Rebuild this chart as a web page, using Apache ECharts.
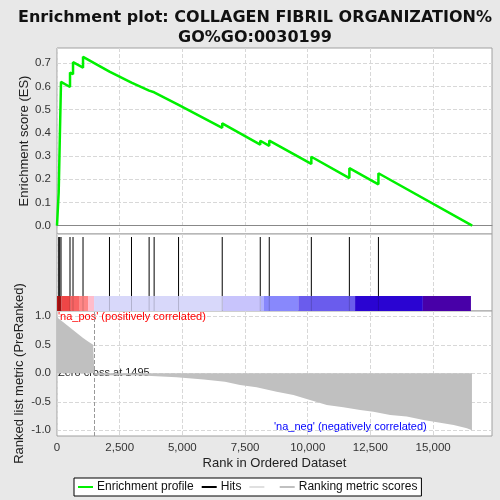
<!DOCTYPE html>
<html>
<head>
<meta charset="utf-8">
<script src="https://cdn.jsdelivr.net/npm/echarts@6/dist/echarts.min.js"></script>
<style>
  html, body { margin: 0; padding: 0; background: #e8e8e8; }
  #chart { width: 500px; height: 500px; }
</style>
</head>
<body>
<div id="chart"></div>
<script>
// running enrichment score, read at each hit (before / after the step)
const esRanks = [0, 68, 68, 108, 108, 160, 160, 519, 519, 639, 639, 1038, 1038, 2093, 2093, 2971, 2971,
  3674, 3674, 3874, 3874, 4848, 4848, 6590, 6590, 8107, 8107, 8466, 8466, 10144, 10144, 11661, 11661,
  12820, 12820, 16560];
const esValues = [0, 0, 0.145, 0.143, 0.355, 0.352, 0.62, 0.598, 0.66, 0.653, 0.705, 0.681, 0.728, 0.664, 0.670,
  0.617, 0.624, 0.582, 0.587, 0.575, 0.580, 0.521, 0.527, 0.422, 0.441, 0.349, 0.366, 0.344, 0.367,
  0.266, 0.297, 0.205, 0.248, 0.178, 0.226, 0];

// positions of the gene set members in the ranked list
const hitRanks = [68, 108, 160, 519, 639, 1038, 2093, 2971, 3674, 3874, 4848, 6590, 8107, 8466, 10144, 11661, 12820];

// colour band under the hits
const bandStart = [0, 176, 547, 907, 1238, 1478, 6605, 8123, 8255, 9625, 11889, 14593];
const bandEnd = [176, 547, 907, 1238, 1478, 6605, 8123, 8255, 9625, 11889, 14593, 16510];
const bandColors = ['#b81414', '#ee4646', '#f86464', '#ff8686', '#ffbccb', '#d8d8fa', '#c8c4fc', '#b0b0ff',
  '#8888fc', '#6a5ced', '#2a04d2', '#4800a8'];

// ranked list metric
const metricRanks = [0, 60, 240, 440, 640, 840, 1040, 1240, 1440, 1495, 1495, 3370, 3370, 4770, 4770, 5850, 5850,
  6700, 6700, 7300, 7960, 8760, 9430, 10090, 10760, 11420, 12090, 12620, 13290, 13950, 14620, 15280,
  15820, 16350, 16550, 16550];
const metricValues = [1.0, 0.96, 0.9, 0.83, 0.76, 0.69, 0.62, 0.56, 0.5, 0.48, -0.035, -0.04, -0.06, -0.07, -0.1,
  -0.11, -0.14, -0.15, -0.18, -0.205, -0.246, -0.322, -0.38, -0.468, -0.556, -0.597, -0.644, -0.673,
  -0.73, -0.76, -0.82, -0.866, -0.907, -0.965, -1.0, 0];

const zeroCross = 1495;
const xTicks = [0, 2500, 5000, 7500, 10000, 12500, 15000];
const esTicks = [0, 0.1, 0.2, 0.3, 0.4, 0.5, 0.6, 0.7];
const metricTicks = [-1, -0.5, 0, 0.5, 1];
const xMax = 17350;

const font = 'Liberation Sans';
const chart = echarts.init(document.getElementById('chart'));

const gridBase = {
  left: 57, right: 8, show: true, backgroundColor: '#fff', borderColor: '#a0a0a0', borderWidth: 1,
  containLabel: false, outerBoundsMode: 'none'
};
const dashed = { show: true, lineStyle: { color: '#d8d8d8', type: 'dashed', width: 1 } };
const nameStyle = { color: '#222', fontFamily: font, fontSize: 13 };
const labelStyle = { color: '#333', fontFamily: font, fontSize: 11.5 };

function xAxisFor(i, withLabels) {
  return {
    type: 'value', gridIndex: i, min: 0, max: xMax,
    axisLine: i === 0 ? { show: true, onZero: true, lineStyle: { color: '#888', width: 1 } } : { show: false },
    axisTick: { show: false, customValues: xTicks },
    axisLabel: Object.assign({
      show: withLabels, customValues: xTicks, margin: 6,
      formatter: v => v.toLocaleString('en-US')
    }, labelStyle),
    splitLine: dashed,
    name: withLabels ? 'Rank in Ordered Dataset' : '',
    nameLocation: 'middle', nameGap: 21, nameMoveOverlap: false,
    nameTextStyle: nameStyle
  };
}

const option = {
  backgroundColor: '#e8e8e8',
  animation: false,
  title: {
    text: 'Enrichment plot: COLLAGEN FIBRIL ORGANIZATION%\nGO%GO:0030199',
    left: 250, top: 3, textAlign: 'center',
    textStyle: { fontFamily: 'DejaVu Sans', fontSize: 16, fontWeight: 'bold', color: '#111', lineHeight: 20 }
  },
  grid: [
    Object.assign({ top: 48, height: 186 }, gridBase),
    Object.assign({ top: 234, height: 77 }, gridBase),
    Object.assign({ top: 311, height: 125 }, gridBase)
  ],
  xAxis: [xAxisFor(0, false), xAxisFor(1, false), xAxisFor(2, true)],
  yAxis: [
    {
      type: 'value', gridIndex: 0, min: -0.036, max: 0.766,
      axisLine: { show: false },
      axisTick: { show: false, customValues: esTicks },
      axisLabel: Object.assign({ customValues: esTicks, margin: 6, formatter: v => v.toFixed(1) }, labelStyle),
      splitLine: dashed,
      name: 'Enrichment score (ES)', nameLocation: 'middle', nameGap: 26, nameMoveOverlap: false,
      nameTextStyle: nameStyle
    },
    {
      type: 'value', gridIndex: 1, min: 0, max: 1,
      axisLine: { show: false }, axisTick: { show: false }, axisLabel: { show: false }, splitLine: { show: false }
    },
    {
      type: 'value', gridIndex: 2, min: -1.1, max: 1.093,
      axisLine: { show: false },
      axisTick: { show: false, customValues: metricTicks },
      axisLabel: Object.assign({ customValues: metricTicks, margin: 6, formatter: v => v.toFixed(1) }, labelStyle),
      splitLine: dashed,
      name: 'Ranked list metric (PreRanked)', nameLocation: 'middle', nameGap: 31, nameMoveOverlap: false,
      nameTextStyle: nameStyle
    }
  ],
  legend: {
    left: 74, top: 478, width: 360,
    padding: [3, 4], itemGap: 8, itemWidth: 15, itemHeight: 2,
    borderColor: '#000', borderWidth: 1, backgroundColor: '#fff',
    icon: 'rect',
    textStyle: { fontFamily: font, fontSize: 12, color: '#111', padding: [0, 0, 0, -1] },
    data: ['Enrichment profile', 'Hits', ' ', 'Ranking metric scores']
  },
  series: [
    {
      name: 'Enrichment profile', type: 'line', xAxisIndex: 0, yAxisIndex: 0,
      data: esRanks.map((r, i) => [r, esValues[i]]),
      showSymbol: false, symbol: 'none', color: '#00f000',
      lineStyle: { color: '#00f000', width: 2.5 }, z: 5
    },
    {
      name: 'Hits', type: 'custom', xAxisIndex: 1, yAxisIndex: 1, color: '#000',
      data: hitRanks.map(r => [r]),
      renderItem: function (params, api) {
        const top = api.coord([api.value(0), 0.961]);
        const mid = api.coord([api.value(0), 0.195]);
        const bot = api.coord([api.value(0), 0]);
        return {
          type: 'group', children: [
            { type: 'line', shape: { x1: top[0], y1: top[1], x2: mid[0], y2: mid[1] }, style: { stroke: '#000', lineWidth: 1 } },
            { type: 'line', shape: { x1: mid[0], y1: mid[1], x2: bot[0], y2: bot[1] }, style: { stroke: 'rgba(0,0,0,0.18)', lineWidth: 1 }, z2: 10 }
          ]
        };
      },
      z: 4
    },
    {
      name: 'band', type: 'custom', xAxisIndex: 1, yAxisIndex: 1,
      data: bandStart.map((s, i) => [s, bandEnd[i], i]),
      renderItem: function (params, api) {
        const a = api.coord([api.value(0), 0.195]);
        const b = api.coord([api.value(1), 0]);
        return {
          type: 'rect', shape: { x: a[0], y: a[1], width: b[0] - a[0], height: b[1] - a[1] },
          style: { fill: bandColors[api.value(2)] }
        };
      },
      z: 3
    },
    {
      name: ' ', type: 'line', xAxisIndex: 2, yAxisIndex: 2, data: [],
      color: '#e0e0e0', lineStyle: { color: '#e0e0e0' }, symbol: 'none'
    },
    {
      name: 'Ranking metric scores', type: 'line', xAxisIndex: 2, yAxisIndex: 2,
      data: metricRanks.map((r, i) => [r, metricValues[i]]),
      symbol: 'none', color: '#c0c0c0',
      lineStyle: { width: 0 }, areaStyle: { color: '#c0c0c0', opacity: 1, origin: 0 },
      markLine: {
        silent: true, symbol: 'none', label: { show: false },
        lineStyle: { color: '#999', type: 'dashed', width: 1 },
        data: [{ xAxis: zeroCross }]
      }
    }
  ]
};

chart.setOption(option);

// text notes anchored to the lower panel through its scales
const posAt = chart.convertToPixel({ gridIndex: 2 }, [0, 1.0]);
const negAt = chart.convertToPixel({ gridIndex: 2 }, [11700, -0.95]);
const zeroAt = chart.convertToPixel({ gridIndex: 2 }, [0, 0]);
const noteFont = '11px "Liberation Sans"';
chart.setOption({
  graphic: [
    { type: 'text', x: posAt[0] + 1, y: posAt[1] + 1, style: { text: "'na_pos' (positively correlated)", fill: '#ff0000', font: noteFont, textVerticalAlign: 'middle' } },
    { type: 'text', x: negAt[0], y: negAt[1], style: { text: "'na_neg' (negatively correlated)", fill: '#0000ff', font: noteFont, textAlign: 'center', textVerticalAlign: 'middle' } },
    { type: 'text', x: zeroAt[0] + 1, y: zeroAt[1], style: { text: 'Zero cross at ' + zeroCross, fill: '#222', font: noteFont, textVerticalAlign: 'middle' } }
  ]
});
</script>
</body>
</html>
